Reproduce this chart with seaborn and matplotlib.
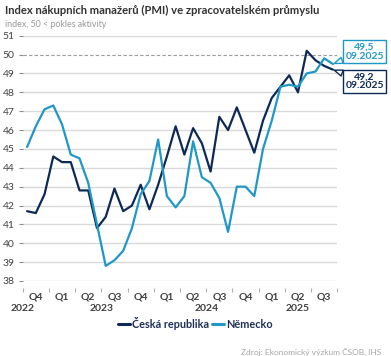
import numpy as np
import pandas as pd
import seaborn as sns
import matplotlib
matplotlib.use('Agg')
import matplotlib.pyplot as plt
from matplotlib.lines import Line2D

# mesicni data 10.2022 - 09.2025
months = pd.period_range("2022-10", "2025-09", freq="M").strftime("%m.%Y")
cz = [41.7, 41.6, 42.6, 44.6, 44.3, 44.3, 42.8, 42.8, 40.8, 41.4, 42.9, 41.7,
      42.0, 43.1, 41.8, 43.1, 44.6, 46.2, 44.7, 46.1, 45.3, 43.8, 46.7, 46.0,
      47.2, 46.0, 44.8, 46.5, 47.7, 48.3, 48.9, 48.0, 50.2, 49.7, 49.4, 49.2]
de = [45.1, 46.2, 47.1, 47.3, 46.3, 44.7, 44.5, 43.2, 41.0, 38.8, 39.1, 39.6,
      40.8, 42.6, 43.3, 45.5, 42.5, 41.9, 42.5, 45.4, 43.5, 43.2, 42.4, 40.6,
      43.0, 43.0, 42.5, 45.0, 46.5, 48.3, 48.4, 48.3, 49.0, 49.1, 49.8, 49.5]
series_names = ["Česká republika", "Německo"]
q_labels = ["Q4", "Q1", "Q2", "Q3", "Q4", "Q1", "Q2", "Q3", "Q4", "Q1", "Q2", "Q3"]
years = ["2022", "2023", "2024", "2025"]

dark = "#0d2a57"
light = "#1f98c8"
txt = "#404040"

df = pd.DataFrame({
    "x": list(range(len(months))) * 2,
    "value": cz + de,
    "series": [series_names[0]] * len(cz) + [series_names[1]] * len(de),
})

sns.set_theme(style="white")
plt.rcParams["font.family"] = ["Lato", "DejaVu Sans"]

fig = plt.figure(figsize=(3.91, 3.56), dpi=100)
ax = fig.add_axes([22.7 / 391, 1 - 281 / 356, (337.3 - 22.7) / 391, (281 - 35.7) / 356])

sns.lineplot(data=df, x="x", y="value", hue="series", palette=[dark, light],
             linewidth=1.6, ax=ax, legend=False)

ax.set_xlim(-0.5, len(months) - 0.5)
ax.set_ylim(38, 51)
ax.set_xlabel("")
ax.set_ylabel("")
for s in ax.spines.values():
    s.set_visible(False)
ax.spines["bottom"].set_position(("outward", 5))

ax.set_yticks(range(38, 52))
ax.tick_params(axis="y", left=True, length=3, width=0.8, color="#8c8c8c",
               labelsize=7.5, labelcolor=txt, pad=3)
ax.grid(axis="y", color="#d9d9d9", linewidth=1)
g50 = ax.get_ygridlines()[12]
g50.set_linestyle((0, (3, 2)))
g50.set_color("#9a9a9a")
g50.set_linewidth(0.8)

ax.set_xticks(np.arange(-0.5, len(months), 3))
ax.set_xticklabels([])
ax.tick_params(axis="x", bottom=True, length=3, width=0.8, color="#b0b0b0")

trans = ax.get_xaxis_transform()
for i, q in enumerate(q_labels):
    ax.text(1 + 3 * i, -0.064, q, transform=trans, ha="center", va="center",
            fontsize=7.5, fontweight="bold", color=txt)
for pos, y in zip([-0.55, 8.5, 20.5, 31], years):
    ax.text(pos, -0.113, y, transform=trans, ha="center", va="center",
            fontsize=7.5, fontweight="bold", color=txt)

# popisky poslednich hodnot
last = len(months) - 1
for val, col, ypix in [(de[-1], light, 51.7), (cz[-1], dark, 81.3)]:
    ax.annotate(f"{val:.1f}".replace(".", ",") + "\n" + months[-1],
                xy=(last, val), xycoords="data",
                xytext=(364.5 / 391, 1 - ypix / 356), textcoords="figure fraction",
                ha="center", va="center", fontsize=7.5, fontweight="bold", color=col,
                linespacing=1.0,
                bbox=dict(boxstyle="square,pad=0.25", fc="white", ec=col, lw=1),
                arrowprops=dict(arrowstyle="wedge,tail_width=0.6", fc="white", ec=col,
                                lw=1, shrinkA=0, shrinkB=1),
                annotation_clip=False)

handles = [Line2D([], [], color=dark, lw=2.2), Line2D([], [], color=light, lw=2.2)]
leg = fig.legend(handles, series_names, loc="center", bbox_to_anchor=(0.5, 1 - 323 / 356),
                 ncol=2, frameon=False, fontsize=7.8, handlelength=1.1, handletextpad=0.2,
                 columnspacing=0.3)
for t in leg.get_texts():
    t.set_color("#1f2f55")
    t.set_fontweight("bold")

fig.text(5 / 391, 1 - 10.5 / 356, "Index nákupních manažerů (PMI) ve zpracovatelském průmyslu",
         ha="left", va="center", fontsize=8.1, fontweight="bold", color="#333333")
fig.text(5 / 391, 1 - 24.5 / 356, "index, 50 < pokles aktivity",
         ha="left", va="center", fontsize=6.4, color="#999999")
fig.text(381.7 / 391, 1 - 351.7 / 356, "Zdroj: Ekonomický výzkum ČSOB, IHS",
         ha="right", va="center", fontsize=6, color="#a6a6a6")

fig.savefig("out.png", dpi=100)
